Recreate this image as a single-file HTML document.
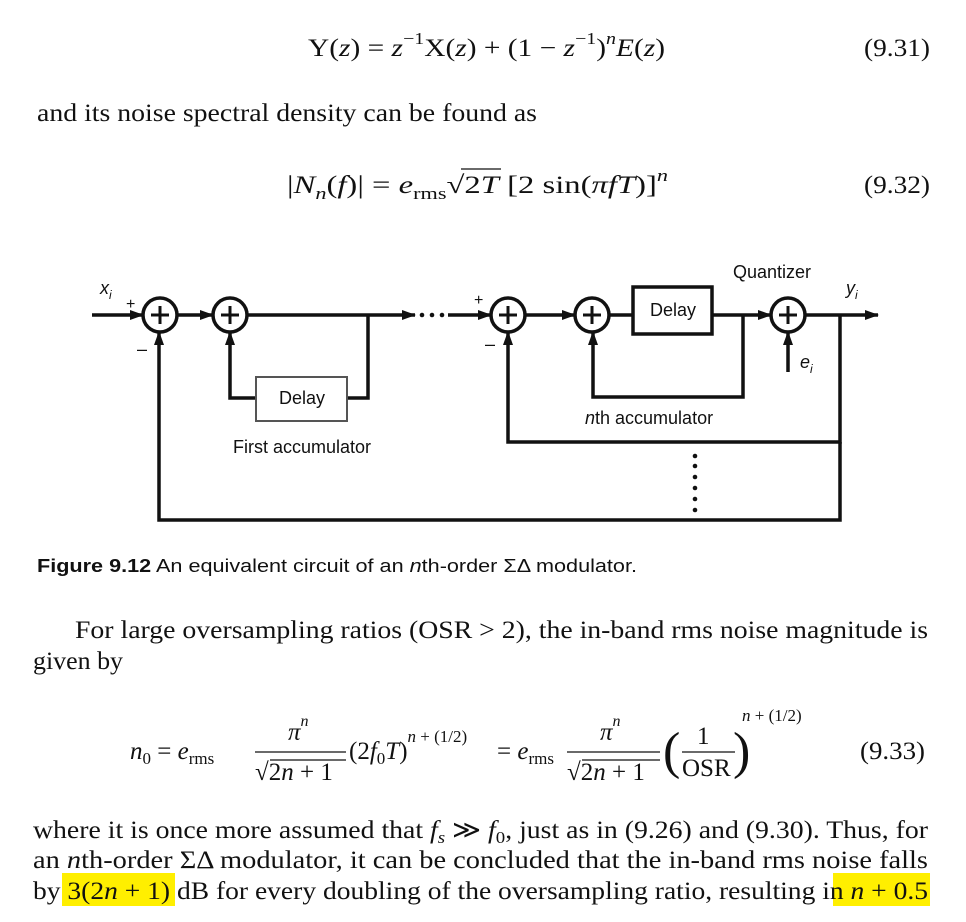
<!DOCTYPE html>
<html><head><meta charset="utf-8"><style>
html,body{margin:0;padding:0;background:#fff}
svg{display:block}
.s{font-family:"Liberation Serif",serif;font-size:25px;fill:#111}
.ss{font-family:"Liberation Sans",sans-serif;fill:#111}
</style></head><body>
<svg width="966" height="922" viewBox="0 0 966 922" xmlns="http://www.w3.org/2000/svg">
<defs><marker id="a" markerWidth="14" markerHeight="10" refX="13" refY="5" orient="auto" markerUnits="userSpaceOnUse"><path d="M0,0 L14,5 L0,10z" fill="#111"/></marker></defs>
<!-- eq 9.31 -->
<text class="s" x="308" y="56" textLength="357" lengthAdjust="spacingAndGlyphs">Y(<tspan font-style="italic">z</tspan>) = <tspan font-style="italic">z</tspan><tspan dy="-12" font-size="17">−1</tspan><tspan dy="12">X(</tspan><tspan font-style="italic">z</tspan>) + (1 − <tspan font-style="italic">z</tspan><tspan dy="-12" font-size="17">−1</tspan><tspan dy="12">)</tspan><tspan dy="-12" font-size="17" font-style="italic">n</tspan><tspan dy="12" font-style="italic">E</tspan>(<tspan font-style="italic">z</tspan>)</text>
<text class="s" x="864" y="56" textLength="66" lengthAdjust="spacingAndGlyphs">(9.31)</text>
<text class="s" x="37" y="121" textLength="500" lengthAdjust="spacingAndGlyphs">and its noise spectral density can be found as</text>
<!-- eq 9.32 -->
<text class="s" x="287" y="193" textLength="381" lengthAdjust="spacingAndGlyphs">|<tspan font-style="italic">N</tspan><tspan dy="6" font-size="17" font-style="italic">n</tspan><tspan dy="-6">(</tspan><tspan font-style="italic">f</tspan>)| = <tspan font-style="italic">e</tspan><tspan dy="6" font-size="17">rms</tspan><tspan dy="-6">√2</tspan><tspan font-style="italic">T</tspan>  [2 sin(<tspan font-style="italic">πfT</tspan>)]<tspan dy="-12" font-size="17" font-style="italic">n</tspan></text>
<line x1="461" y1="169" x2="501" y2="169" stroke="#111" stroke-width="1.3"/>
<text class="s" x="864" y="193" textLength="66" lengthAdjust="spacingAndGlyphs">(9.32)</text>

<!-- diagram -->
<g stroke="#111" stroke-width="3.5" fill="none">
<line x1="92" y1="315" x2="143" y2="315" marker-end="url(#a)"/>
<line x1="177" y1="315" x2="213" y2="315" marker-end="url(#a)"/>
<line x1="247" y1="315" x2="415" y2="315" marker-end="url(#a)"/>
<line x1="448" y1="315" x2="491" y2="315" marker-end="url(#a)"/>
<line x1="525" y1="315" x2="575" y2="315" marker-end="url(#a)"/>
<line x1="609" y1="315" x2="633" y2="315"/>
<line x1="712" y1="315" x2="771" y2="315" marker-end="url(#a)"/>
<line x1="805" y1="315" x2="878" y2="315" marker-end="url(#a)"/>
<polyline points="368,315 368,398 347,398"/>
<polyline points="256,398 230,398 230,332" marker-end="url(#a)"/>
<polyline points="743,315 743,397 593,397 593,332" marker-end="url(#a)"/>
<polyline points="840,315 840,442 508,442 508,332" marker-end="url(#a)"/>
<polyline points="840,442 840,520 159,520 159,332" marker-end="url(#a)"/>
<line x1="788" y1="372" x2="788" y2="332" marker-end="url(#a)"/>
<circle cx="160" cy="315" r="17"/><circle cx="230" cy="315" r="17"/>
<circle cx="508" cy="315" r="17"/><circle cx="592" cy="315" r="17"/>
<circle cx="788" cy="315" r="17"/>
</g>
<g stroke="#111" stroke-width="3" fill="none">
<path d="M151,315h18M160,306v18M221,315h18M230,306v18M499,315h18M508,306v18M583,315h18M592,306v18M779,315h18M788,306v18"/>
</g>
<rect x="256" y="377" width="91" height="44" fill="#fff" stroke="#555" stroke-width="2"/>
<rect x="633" y="287" width="79" height="47" fill="#fff" stroke="#111" stroke-width="3.5"/>
<g fill="#111"><circle cx="422" cy="315" r="2.3"/><circle cx="432" cy="315" r="2.3"/><circle cx="442" cy="315" r="2.3"/>
<circle cx="695" cy="456" r="2.3"/><circle cx="695" cy="466" r="2.3"/><circle cx="695" cy="477" r="2.3"/><circle cx="695" cy="488" r="2.3"/><circle cx="695" cy="499" r="2.3"/><circle cx="695" cy="510" r="2.3"/></g>
<g class="ss" font-size="18">
<text x="279" y="404">Delay</text><text x="650" y="316">Delay</text>
<text x="733" y="278">Quantizer</text>
<text x="233" y="453">First accumulator</text>
<text x="585" y="424"><tspan font-style="italic">n</tspan>th accumulator</text>
<text x="100" y="294" font-style="italic">x<tspan font-size="12" dy="5">i</tspan></text>
<text x="846" y="294" font-style="italic">y<tspan font-size="12" dy="5">i</tspan></text>
<text x="800" y="368" font-style="italic">e<tspan font-size="12" dy="5">i</tspan></text>
<text x="126" y="309" font-size="16">+</text><text x="474" y="305" font-size="16">+</text>
<text x="137" y="355">–</text><text x="485" y="350">–</text>
</g>
<text class="ss" x="37" y="572" font-size="18" textLength="600" lengthAdjust="spacingAndGlyphs"><tspan font-weight="bold">Figure 9.12</tspan>   An equivalent circuit of an <tspan font-style="italic">n</tspan>th-order ΣΔ modulator.</text>

<text class="s" x="75" y="638" textLength="853" lengthAdjust="spacingAndGlyphs">For large oversampling ratios (OSR &gt; 2), the in-band rms noise magnitude is</text>
<text class="s" x="33" y="669" textLength="90" lengthAdjust="spacingAndGlyphs">given by</text>

<!-- eq 9.33 -->
<g class="s">
<text x="130" y="759"><tspan font-style="italic">n</tspan><tspan font-size="17" dy="5">0</tspan><tspan dy="-5"> = </tspan><tspan font-style="italic">e</tspan><tspan font-size="17" dy="5">rms</tspan></text>
<text x="288" y="740" font-style="italic">π<tspan font-size="16" dy="-14">n</tspan></text>
<line x1="255" y1="752" x2="346" y2="752" stroke="#111" stroke-width="1.3"/>
<text x="255" y="780">√<tspan>2</tspan><tspan font-style="italic">n</tspan> + 1</text>
<line x1="270" y1="760" x2="346" y2="760" stroke="#111" stroke-width="1.3"/>
<text x="349" y="759">(2<tspan font-style="italic">f</tspan><tspan font-size="17" dy="5">0</tspan><tspan dy="-5" font-style="italic">T</tspan>)<tspan font-size="17" dy="-17"><tspan font-style="italic">n</tspan> + (1/2)</tspan></text>
<text x="497" y="759">= <tspan font-style="italic">e</tspan><tspan font-size="17" dy="5">rms</tspan></text>
<text x="600" y="740" font-style="italic">π<tspan font-size="16" dy="-14">n</tspan></text>
<line x1="567" y1="752" x2="660" y2="752" stroke="#111" stroke-width="1.3"/>
<text x="567" y="780">√<tspan>2</tspan><tspan font-style="italic">n</tspan> + 1</text>
<line x1="582" y1="760" x2="660" y2="760" stroke="#111" stroke-width="1.3"/>
<text x="663" y="768" font-size="52">(</text>
<text x="697" y="744">1</text>
<line x1="682" y1="752" x2="735" y2="752" stroke="#111" stroke-width="1.3"/>
<text x="682" y="776">OSR</text>
<text x="733" y="768" font-size="52">)</text>
<text x="742" y="721" font-size="17"><tspan font-style="italic">n</tspan> + (1/2)</text>
<text x="860" y="759" textLength="65" lengthAdjust="spacingAndGlyphs">(9.33)</text>
</g>

<rect x="62" y="873" width="113" height="33" fill="#ffef00"/>
<rect x="833" y="873" width="97" height="33" fill="#ffef00"/>
<text class="s" x="33" y="838" textLength="895" lengthAdjust="spacingAndGlyphs">where it is once more assumed that <tspan font-style="italic">f</tspan><tspan font-size="17" dy="5" font-style="italic">s</tspan><tspan dy="-5"> ≫ </tspan><tspan font-style="italic">f</tspan><tspan font-size="17" dy="5">0</tspan><tspan dy="-5">, just as in (9.26) and (9.30). Thus, for</tspan></text>
<text class="s" x="33" y="868" textLength="895" lengthAdjust="spacingAndGlyphs">an <tspan font-style="italic">n</tspan>th-order ΣΔ modulator, it can be concluded that the in-band rms noise falls</text>
<text class="s" x="33" y="899" textLength="895" lengthAdjust="spacingAndGlyphs">by 3(2<tspan font-style="italic">n</tspan> + 1) dB for every doubling of the oversampling ratio, resulting in <tspan font-style="italic">n</tspan> + 0.5</text>
</svg>
</body></html>
